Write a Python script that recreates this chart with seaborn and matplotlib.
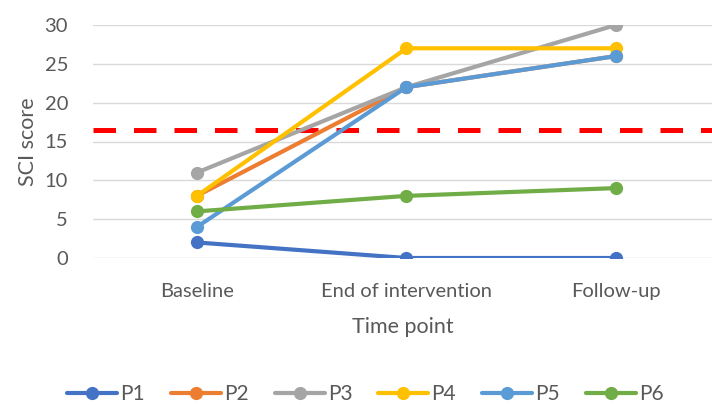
import matplotlib
matplotlib.use("Agg")
import matplotlib.pyplot as plt
import seaborn as sns
import pandas as pd

timepoints = ["Baseline", "End of intervention", "Follow-up"]
participants = ["P1", "P2", "P3", "P4", "P5", "P6"]
P1 = [2, 0, 0]
P2 = [8, 22, 26]
P3 = [11, 22, 30]
P4 = [8, 27, 27]
P5 = [4, 22, 26]
P6 = [6, 8, 9]
cutoff = 16.5
colors = ["#4472C4", "#ED7D31", "#A5A5A5", "#FFC000", "#5B9BD5", "#70AD47"]

series = [P1, P2, P3, P4, P5, P6]
rows = []
for p, vals in zip(participants, series):
    for t, v in zip(timepoints, vals):
        rows.append({"Time point": t, "SCI score": v, "Participant": p})
df = pd.DataFrame(rows)

sns.set_theme(style="white")
plt.rcParams["font.family"] = ["Lato", "DejaVu Sans"]

fig = plt.figure(figsize=(7.12, 4.05), dpi=100)
ax = fig.add_axes([93/712, 1 - 258/405, 1 - 93/712, (258 - 25)/405])

ax.axhline(cutoff, color="#FF0000", lw=3.6, dashes=(4.5, 3.6), zorder=1)
sns.lineplot(data=df, x="Time point", y="SCI score", hue="Participant",
             palette=colors, marker="o", markersize=9.5, markeredgewidth=0,
             linewidth=3, sort=False, ax=ax, zorder=3)

ax.set_xlim(-0.496, 2.458)
ax.set_ylim(0, 30)
ax.set_yticks(range(0, 31, 5))
ax.yaxis.grid(True, color="#D9D9D9", lw=1)
ax.set_axisbelow(True)
for s in ax.spines.values():
    s.set_visible(False)
ax.tick_params(axis="both", length=0, labelsize=14.5, labelcolor="#595959")
ax.tick_params(axis="x", pad=18)
ax.tick_params(axis="y", pad=18)
ax.set_xlabel("Time point", fontsize=15.5, color="#595959", labelpad=12)
ax.set_ylabel("SCI score", fontsize=15.5, color="#595959", labelpad=5)

ax.legend(loc="center", bbox_to_anchor=(0.44, -0.585), ncol=6, frameon=False,
          fontsize=15, handlelength=2.4, columnspacing=1.25, handletextpad=0.15,
          labelcolor="#595959")

fig.savefig("out.png", dpi=100)
